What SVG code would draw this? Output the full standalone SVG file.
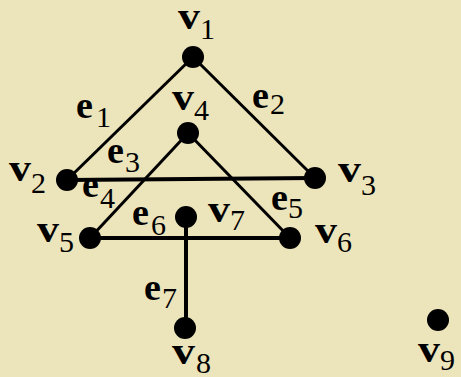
<svg xmlns="http://www.w3.org/2000/svg" width="461" height="377" viewBox="0 0 461 377">
<style>
.bg{fill:#ece4ba}
.edge{stroke:#000;stroke-width:3;fill:none}
.thick{stroke-width:4}
.node{fill:#000}
text{font-family:"Liberation Serif","Times New Roman",serif;fill:#000}
.m{font-size:38px;font-weight:bold}
.s{font-size:30px;font-weight:normal}
</style>
<rect class="bg" x="0" y="0" width="461" height="377"/>
<g id="connectors">
<line class="edge" x1="193" y1="57" x2="67" y2="180"/>
<line class="edge" x1="193" y1="57" x2="315" y2="178"/>
<line class="edge thick" x1="67" y1="180" x2="315" y2="178"/>
<line class="edge" x1="188" y1="133" x2="90" y2="238"/>
<line class="edge" x1="188" y1="133" x2="290" y2="238"/>
<line class="edge thick" x1="90" y1="238" x2="290" y2="238"/>
<line class="edge thick" x1="186" y1="217" x2="186" y2="328"/>
</g>
<g id="edge-labels">
<text id="e1"><tspan class="m" x="76" y="118">e</tspan><tspan class="s" x="96" y="127">1</tspan></text>
<text id="e2"><tspan class="m" x="252" y="108">e</tspan><tspan class="s" x="270" y="114">2</tspan></text>
<text id="e3"><tspan class="m" x="107" y="163">e</tspan><tspan class="s" x="125" y="172">3</tspan></text>
<text id="e4"><tspan class="m" x="82" y="197">e</tspan><tspan class="s" x="100" y="208">4</tspan></text>
<text id="e5"><tspan class="m" x="271" y="210">e</tspan><tspan class="s" x="288" y="218">5</tspan></text>
<text id="e6"><tspan class="m" x="132" y="225">e</tspan><tspan class="s" x="151" y="235">6</tspan></text>
<text id="e7"><tspan class="m" x="144" y="300">e</tspan><tspan class="s" x="162" y="308">7</tspan></text>
</g>
<g id="v1"><circle class="node" cx="193" cy="57" r="11"/><text><tspan class="m" x="178" y="29" textLength="22" lengthAdjust="spacingAndGlyphs">v</tspan><tspan class="s" x="200" y="39">1</tspan></text></g>
<g id="v2"><circle class="node" cx="67" cy="180" r="11"/><text><tspan class="m" x="9" y="181" textLength="22" lengthAdjust="spacingAndGlyphs">v</tspan><tspan class="s" x="31" y="193">2</tspan></text></g>
<g id="v3"><circle class="node" cx="315" cy="178" r="11"/><text><tspan class="m" x="338" y="182" textLength="23" lengthAdjust="spacingAndGlyphs">v</tspan><tspan class="s" x="361" y="195">3</tspan></text></g>
<g id="v4"><circle class="node" cx="188" cy="133" r="11"/><text><tspan class="m" x="172" y="110" textLength="22" lengthAdjust="spacingAndGlyphs">v</tspan><tspan class="s" x="194" y="120">4</tspan></text></g>
<g id="v5"><circle class="node" cx="90" cy="238" r="11"/><text><tspan class="m" x="37" y="242" textLength="22" lengthAdjust="spacingAndGlyphs">v</tspan><tspan class="s" x="59" y="252">5</tspan></text></g>
<g id="v6"><circle class="node" cx="290" cy="238" r="11"/><text><tspan class="m" x="315" y="243" textLength="22" lengthAdjust="spacingAndGlyphs">v</tspan><tspan class="s" x="337" y="252">6</tspan></text></g>
<g id="v7"><circle class="node" cx="186" cy="217" r="11"/><text><tspan class="m" x="208" y="222" textLength="22" lengthAdjust="spacingAndGlyphs">v</tspan><tspan class="s" x="230" y="230">7</tspan></text></g>
<g id="v8"><circle class="node" cx="185" cy="328" r="11"/><text><tspan class="m" x="172" y="364" textLength="23" lengthAdjust="spacingAndGlyphs">v</tspan><tspan class="s" x="196" y="373">8</tspan></text></g>
<g id="v9"><circle class="node" cx="438" cy="320" r="11"/><text><tspan class="m" x="418" y="362" textLength="22" lengthAdjust="spacingAndGlyphs">v</tspan><tspan class="s" x="440" y="370">9</tspan></text></g>
</svg>
